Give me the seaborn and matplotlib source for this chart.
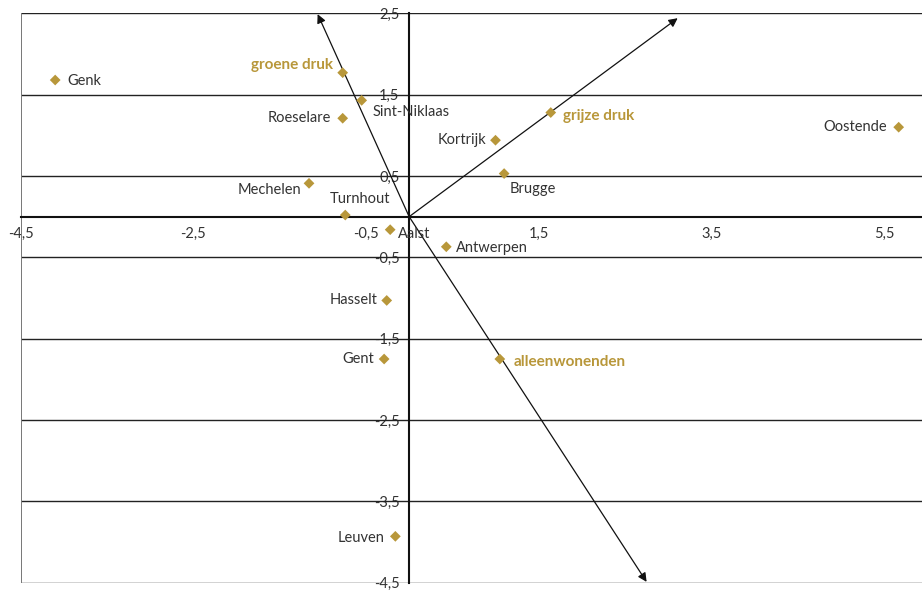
import numpy as np
import pandas as pd
import seaborn as sns
import matplotlib.pyplot as plt

# ------------------------------
# Data
# ------------------------------
labels = ["Genk", "groene druk", "Sint-Niklaas", "Roeselare", "Kortrijk",
          "grijze druk", "Oostende", "Brugge", "Mechelen", "Turnhout",
          "Aalst", "Antwerpen", "Hasselt", "Gent", "alleenwonenden", "Leuven"]
x_vals = [-4.10, -0.77, -0.55, -0.77, 1.00, 1.64, 5.67, 1.10, -1.16, -0.74,
          -0.22, 0.43, -0.26, -0.29, 1.05, -0.16]
y_vals = [1.68, 1.77, 1.43, 1.21, 0.94, 1.28, 1.10, 0.53, 0.41, 0.02,
          -0.16, -0.37, -1.03, -1.75, -1.75, -3.93]
variables = ["groene druk", "grijze druk", "alleenwonenden"]

# arrow tips of the three variable vectors
arrow_x = [-1.06, 3.11, 2.75]
arrow_y = [2.49, 2.44, -4.49]

x_ticks = [-4.5, -2.5, -0.5, 1.5, 3.5, 5.5]
y_ticks = [2.5, 1.5, 0.5, -0.5, -1.5, -2.5, -3.5, -4.5]

# label offsets in pixels (dx, dy, ha)
offsets = {
    "Genk": (12, -1, "left"), "groene druk": (-10, 8, "right"),
    "Sint-Niklaas": (11, -12, "left"), "Roeselare": (-12, 0, "right"),
    "Kortrijk": (-9, 0, "right"), "grijze druk": (12, -3, "left"),
    "Oostende": (-12, 0, "right"), "Brugge": (5, -15, "left"),
    "Mechelen": (-8, -7, "right"), "Turnhout": (15, 16, "center"),
    "Aalst": (8, -4, "left"), "Antwerpen": (10, -1, "left"),
    "Hasselt": (-9, 0, "right"), "Gent": (-10, 0, "right"),
    "alleenwonenden": (14, -3, "left"), "Leuven": (-11, -2, "right"),
}

GOLD = "#B8973A"
TEXT = "#333333"

sns.set_style("white")
plt.rcParams['font.family'] = ['Lato', 'DejaVu Sans']

df = pd.DataFrame({"label": labels, "x": x_vals, "y": y_vals})

fig = plt.figure(figsize=(9.22, 5.92), dpi=100)
ax = fig.add_axes([0.0224, 0.0157, 0.9776, 0.9618])

# horizontal lines and frame
for yv in y_ticks:
    ax.axhline(yv, color="#222222", lw=1.0, zorder=1)
ax.axvline(-4.5, color="#777777", lw=1.4, zorder=1)

sns.scatterplot(data=df, x="x", y="y", marker="D", s=30, color=GOLD,
                edgecolor="none", ax=ax, zorder=4)

for ex, ey in zip(arrow_x, arrow_y):
    ax.annotate("", xy=(ex, ey), xytext=(0, 0),
                arrowprops=dict(arrowstyle="-|>", color="#111111", lw=0.9,
                                mutation_scale=13, shrinkA=0, shrinkB=0),
                zorder=3)

for lab, xv, yv in zip(labels, x_vals, y_vals):
    dx, dy, ha = offsets[lab]
    is_var = lab in variables
    ax.annotate(lab, xy=(xv, yv), xytext=(dx, dy), textcoords="offset pixels",
                ha=ha, va="center", fontsize=11 if is_var else 10.5,
                color=GOLD if is_var else TEXT,
                fontweight="bold" if is_var else "normal", zorder=5)

ax.set_xlim(-4.5, 5.94)
ax.set_ylim(-4.5, 2.5)
ax.spines["left"].set_position(("data", 0))
ax.spines["bottom"].set_position(("data", 0))
for side in ["top", "right"]:
    ax.spines[side].set_visible(False)
for side in ["left", "bottom"]:
    ax.spines[side].set_color("#111111")
    ax.spines[side].set_linewidth(1.5)

ax.set_xticks(x_ticks)
ax.set_yticks(y_ticks)
ax.set_xticklabels([f"{t:.1f}".replace(".", ",") for t in x_ticks])
ax.set_yticklabels([f"{t:.1f}".replace(".", ",") for t in y_ticks])
ax.tick_params(axis="both", direction="out", length=4, width=1, color="#111111",
               labelsize=10.5, labelcolor=TEXT, pad=3)
ax.set_xlabel("")
ax.set_ylabel("")

fig.savefig("out.png", dpi=100)
